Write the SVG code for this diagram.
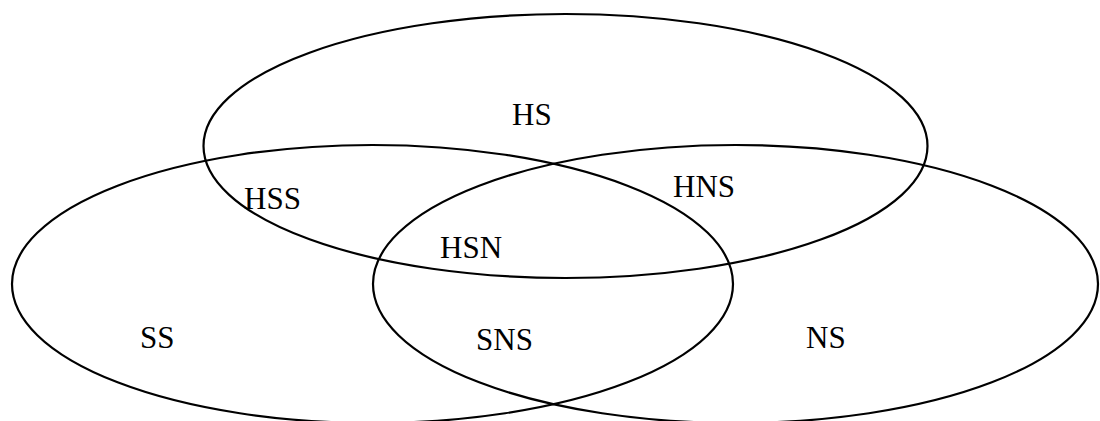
<svg xmlns="http://www.w3.org/2000/svg" width="1100" height="421" viewBox="0 0 1100 421">
<style>
.set{fill:none;stroke:#000;stroke-width:2.2}
.lbl{font-family:"Liberation Serif","Times New Roman",serif;font-size:31px;fill:#000}
</style>
<rect width="1100" height="421" fill="#fff"/>
<g id="set-H"><ellipse class="set" cx="565.5" cy="146" rx="362" ry="132"/></g>
<g id="set-S"><ellipse class="set" cx="372.5" cy="284" rx="360.5" ry="139"/></g>
<g id="set-N"><ellipse class="set" cx="735.5" cy="284" rx="362.5" ry="139"/></g>
<g id="connectors"></g>
<g id="labels">
<text class="lbl" x="512" y="125">HS</text>
<text class="lbl" x="244" y="209">HSS</text>
<text class="lbl" x="673" y="197">HNS</text>
<text class="lbl" x="440" y="258">HSN</text>
<text class="lbl" x="140" y="348">SS</text>
<text class="lbl" x="476" y="350">SNS</text>
<text class="lbl" x="806" y="348">NS</text>
</g>
</svg>
